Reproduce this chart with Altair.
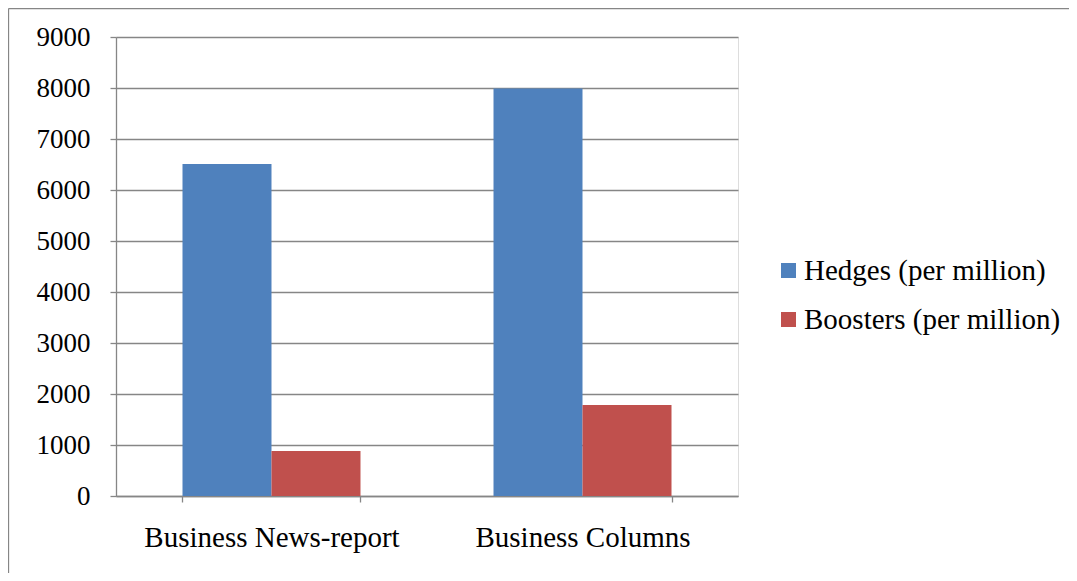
import altair as alt
import pandas as pd

categories = ["Business News-report", "Business Columns"]
series = ["Hedges (per million)", "Boosters (per million)"]
hedges = [6510, 7990]
boosters = [880, 1785]
colors = ["#4F81BD", "#C0504D"]
y_ticks = [0, 1000, 2000, 3000, 4000, 5000, 6000, 7000, 8000, 9000]

rows = []
for c, h, b in zip(categories, hedges, boosters):
    rows.append({"category": c, "series": series[0], "value": h})
    rows.append({"category": c, "series": series[1], "value": b})
df = pd.DataFrame(rows)

FONT = "Liberation Serif"
W, H = 622, 459

bars = alt.Chart(df).mark_bar().encode(
    x=alt.X("category:N", sort=categories, title=None,
            scale=alt.Scale(paddingInner=0.4277, paddingOuter=0.2138),
            axis=alt.Axis(labelAngle=0, tickBand="extent", labelFont=FONT,
                          labelFontSize=29, labelColor="black", labelPadding=21,
                          labelLimit=0,
                          domainColor="#868686", tickColor="#868686",
                          domainWidth=1.3, tickWidth=1.3, tickSize=6, grid=False)),
    xOffset=alt.XOffset("series:N", sort=series,
                        scale=alt.Scale(paddingInner=0, paddingOuter=0)),
    y=alt.Y("value:Q", title=None,
            scale=alt.Scale(domain=[0, 9000], nice=False),
            axis=alt.Axis(values=y_ticks, format="d", labelFont=FONT, labelFontSize=27,
                          labelColor="black", labelPadding=20,
                          domainColor="#868686", tickColor="#868686",
                          gridColor="#868686", gridWidth=1.3,
                          domainWidth=1.3, tickWidth=1.3, tickSize=6)),
    color=alt.Color("series:N", sort=series,
                    scale=alt.Scale(domain=series, range=colors),
                    legend=alt.Legend(title=None, orient="none", legendX=658,
                                      legendY=219, symbolType="square",
                                      symbolSize=225, symbolStrokeWidth=0,
                                      labelFont=FONT, labelFontSize=29,
                                      labelColor="black", labelOffset=1,
                                      labelLimit=0, rowPadding=19)),
)

# chart frame (decorative)
frame_left = alt.Chart().mark_rule(color="#868686", strokeWidth=1.3).encode(
    x=alt.value(-107.5), y=alt.value(-28.5), y2=alt.value(600))
frame_top = alt.Chart().mark_rule(color="#868686", strokeWidth=1.3).encode(
    x=alt.value(-107.5), x2=alt.value(1000), y=alt.value(-28.5))

chart = alt.layer(bars, frame_left, frame_top).properties(
    width=W, height=H,
    padding={"left": 108, "top": 29, "right": 331, "bottom": 77},
    autosize=alt.AutoSizeParams(type="none"),
).configure_view(stroke=None).configure(background="white")

chart.save("out.html", embed_options={"renderer": "svg", "actions": False})
